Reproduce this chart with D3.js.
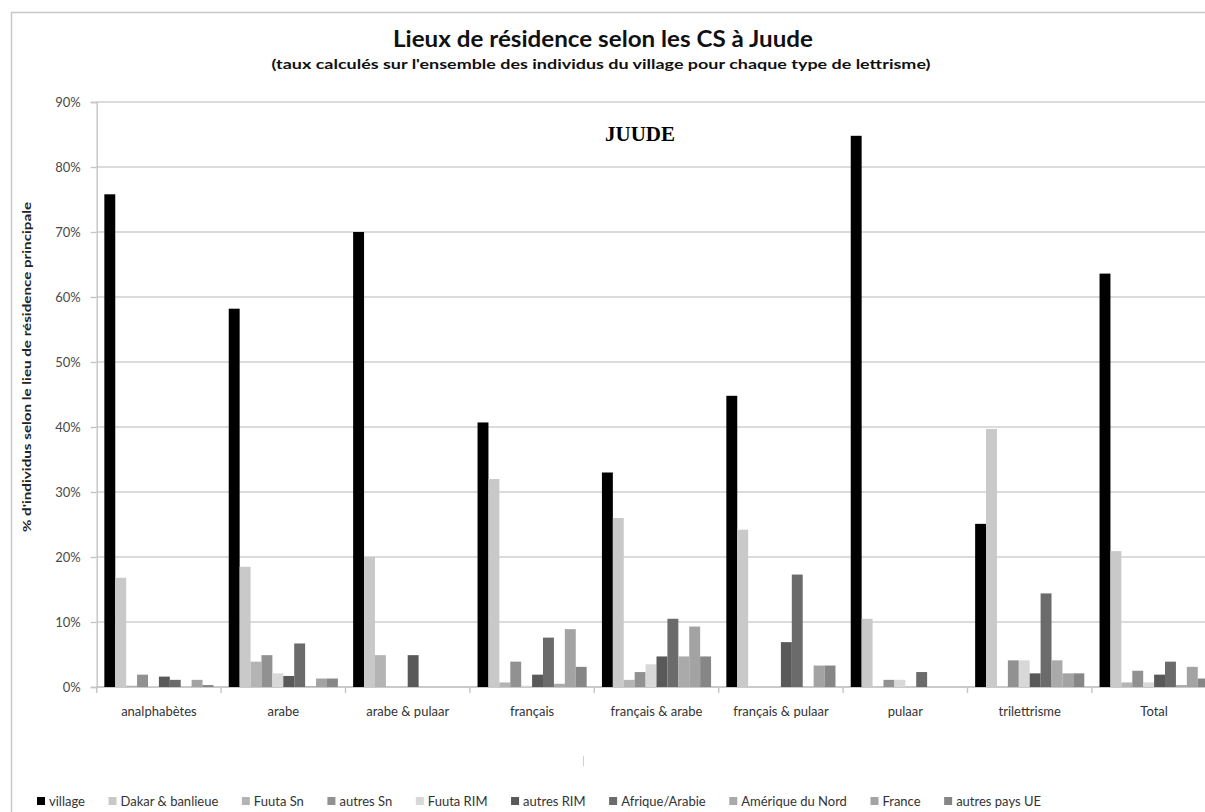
<!DOCTYPE html>
<html>
<head>
<meta charset="utf-8">
<script src="https://cdn.jsdelivr.net/npm/d3@7"></script>
<style>
  html, body { margin: 0; padding: 0; background: #fff; }
  svg { display: block; }
  text { font-family: Lato, "Open Sans", sans-serif; }
</style>
</head>
<body>
<svg id="chart" width="1205" height="812"></svg>
<script>
// ---------- DATA ----------
const categories = ["analphabètes", "arabe", "arabe & pulaar", "français", "français & arabe",
                    "français & pulaar", "pulaar", "trilettrisme", "Total"];
const seriesNames = ["village", "Dakar & banlieue", "Fuuta Sn", "autres Sn", "Fuuta RIM",
                     "autres RIM", "Afrique/Arabie", "Amérique du Nord", "France", "autres pays UE"];
const village    = [75.8, 58.2, 70.0, 40.7, 33.0, 44.8, 84.8, 25.1, 63.6];
const dakar      = [16.8, 18.5, 20.0, 32.0, 26.0, 24.2, 10.5, 39.7, 20.9];
const fuutaSn    = [0.2, 3.9, 4.9, 0.7, 1.1, 0, 0, 0, 0.7];
const autresSn   = [1.9, 4.9, 0, 3.9, 2.3, 0, 1.1, 4.1, 2.5];
const fuutaRIM   = [0.1, 2.1, 0, 0.2, 3.5, 0, 1.1, 4.1, 0.7];
const autresRIM  = [1.6, 1.7, 4.9, 1.9, 4.7, 6.9, 0, 2.1, 1.9];
const afrique    = [1.1, 6.7, 0, 7.6, 10.5, 17.3, 2.3, 14.4, 3.9];
const amerique   = [0, 0.1, 0, 0.5, 4.7, 0, 0, 4.1, 0.3];
const france     = [1.1, 1.3, 0, 8.9, 9.3, 3.3, 0, 2.1, 3.1];
const autresUE   = [0.3, 1.3, 0, 3.1, 4.7, 3.3, 0, 2.1, 1.3];
const yTicks = [0, 10, 20, 30, 40, 50, 60, 70, 80, 90];
const seriesColors = ["#000000", "#c9c9c9", "#b4b4b4", "#919191", "#d8d8d8",
                      "#595959", "#6b6b6b", "#aaaaaa", "#a3a3a3", "#868686"];
const titleText = "Lieux de résidence selon les CS à Juude";
const subtitleText = "(taux calculés sur l'ensemble des individus du village pour chaque type de lettrisme)";
const yLabelText = "% d'individus selon le lieu de résidence principale";
const annotationText = "JUUDE";

const seriesValues = [village, dakar, fuutaSn, autresSn, fuutaRIM, autresRIM, afrique, amerique, france, autresUE];

// ---------- LAYOUT ----------
const svg = d3.select("#chart");
const plotLeft = 96.7, plotTop = 102, plotBottom = 687;
const catStep = 124.4;
const plotRight = plotLeft + catStep * categories.length;

// outer chart frame (cut by the window on the right/bottom)
svg.append("rect")
  .attr("x", 11.5).attr("y", 12.5)
  .attr("width", 1300).attr("height", 900)
  .attr("fill", "none").attr("stroke", "#c8c8c8").attr("stroke-width", 1.5);

const x0 = d3.scaleBand().domain(categories).range([plotLeft, plotRight]).paddingInner(0).paddingOuter(0);
const x1 = d3.scaleBand().domain(seriesNames).range([0, x0.bandwidth()]).paddingInner(0).paddingOuter(0.7);
const y = d3.scaleLinear().domain([0, 90]).range([plotBottom, plotTop]);
const color = d3.scaleOrdinal().domain(seriesNames).range(seriesColors);

// gridlines
svg.append("g").selectAll("line").data(yTicks).join("line")
  .attr("x1", plotLeft).attr("x2", plotRight)
  .attr("y1", d => y(d)).attr("y2", d => y(d))
  .attr("stroke", "#cfcfcf").attr("stroke-width", 1.6);

// y axis
const yAxis = d3.axisLeft(y).tickValues(yTicks).tickFormat(d => d + "%").tickSize(6).tickPadding(10);
const gy = svg.append("g").attr("transform", `translate(${plotLeft},0)`).call(yAxis);
gy.select(".domain").attr("stroke", "#c4c4c4").attr("stroke-width", 1.4);
gy.selectAll(".tick line").attr("stroke", "#c4c4c4").attr("stroke-width", 1.4);
gy.selectAll(".tick text").attr("fill", "#4a4a4a").style("font-size", "13px")
  .style("font-family", "Lato, sans-serif");

// x axis
const catBounds = d3.range(categories.length + 1).map(i => plotLeft + i * x0.step());
const gx = svg.append("g");
gx.append("line").attr("x1", plotLeft).attr("x2", plotRight)
  .attr("y1", plotBottom).attr("y2", plotBottom)
  .attr("stroke", "#c4c4c4").attr("stroke-width", 1.6);
gx.selectAll("line.tk").data(catBounds).join("line").attr("class", "tk")
  .attr("x1", d => d).attr("x2", d => d)
  .attr("y1", plotBottom).attr("y2", plotBottom + 6)
  .attr("stroke", "#c4c4c4").attr("stroke-width", 1.4);
gx.selectAll("text").data(categories).join("text")
  .attr("x", d => x0(d) + x0.bandwidth() / 2)
  .attr("y", plotBottom + 29)
  .attr("text-anchor", "middle")
  .attr("fill", "#333")
  .style("font-size", "13px")
  .text(d => d);

// bars
const groups = svg.append("g").selectAll("g").data(categories).join("g")
  .attr("transform", d => `translate(${x0(d)},0)`);
groups.selectAll("rect")
  .data((c, ci) => seriesNames.map((s, si) => ({ s, v: seriesValues[si][ci] })))
  .join("rect")
  .attr("x", d => x1(d.s))
  .attr("width", x1.bandwidth())
  .attr("y", d => y(d.v))
  .attr("height", d => y(0) - y(d.v))
  .attr("fill", d => color(d.s));

// titles
svg.append("text").attr("x", 603).attr("y", 47).attr("text-anchor", "middle")
  .style("font-size", "23px").style("font-weight", "bold").attr("fill", "#111")
  .attr("textLength", 420).attr("lengthAdjust", "spacingAndGlyphs")
  .text(titleText);
svg.append("text").attr("x", 601).attr("y", 69).attr("text-anchor", "middle")
  .style("font-size", "13px").style("font-weight", "bold").attr("fill", "#111")
  .attr("textLength", 659).attr("lengthAdjust", "spacingAndGlyphs")
  .text(subtitleText);

// y label
svg.append("text").attr("transform", "translate(31,367) rotate(-90)")
  .attr("text-anchor", "middle")
  .style("font-size", "12px").style("font-weight", "bold").attr("fill", "#222")
  .attr("textLength", 330).attr("lengthAdjust", "spacingAndGlyphs")
  .text(yLabelText);

// annotation
svg.append("text").attr("x", 640).attr("y", 141).attr("text-anchor", "middle")
  .style("font-family", "'Liberation Serif', 'DejaVu Serif', serif")
  .style("font-size", "21px").style("font-weight", "bold").attr("fill", "#000")
  .text(annotationText);

// small stray tick mark
svg.append("line").attr("x1", 583.5).attr("x2", 583.5).attr("y1", 756).attr("y2", 766)
  .attr("stroke", "#d0d0d0").attr("stroke-width", 1);

// legend
const legend = svg.append("g");
const legendItems = legend.selectAll("g").data(seriesNames).join("g");
legendItems.append("rect").attr("width", 8).attr("height", 8).attr("y", 797)
  .attr("fill", d => color(d));
legendItems.append("text").attr("x", 12).attr("y", 806)
  .attr("fill", "#333").style("font-size", "13px").text(d => d);
const widths = [];
legendItems.select("text").each(function () { widths.push(this.getComputedTextLength()); });
const legStart = 37, legEnd = 1041;
const totalItems = d3.sum(widths) + 12 * widths.length;
const gap = (legEnd - legStart - totalItems) / (widths.length - 1);
let cx = legStart;
legendItems.each(function (d, i) {
  d3.select(this).attr("transform", `translate(${cx},0)`);
  cx += 12 + widths[i] + gap;
});
</script>
</body>
</html>
